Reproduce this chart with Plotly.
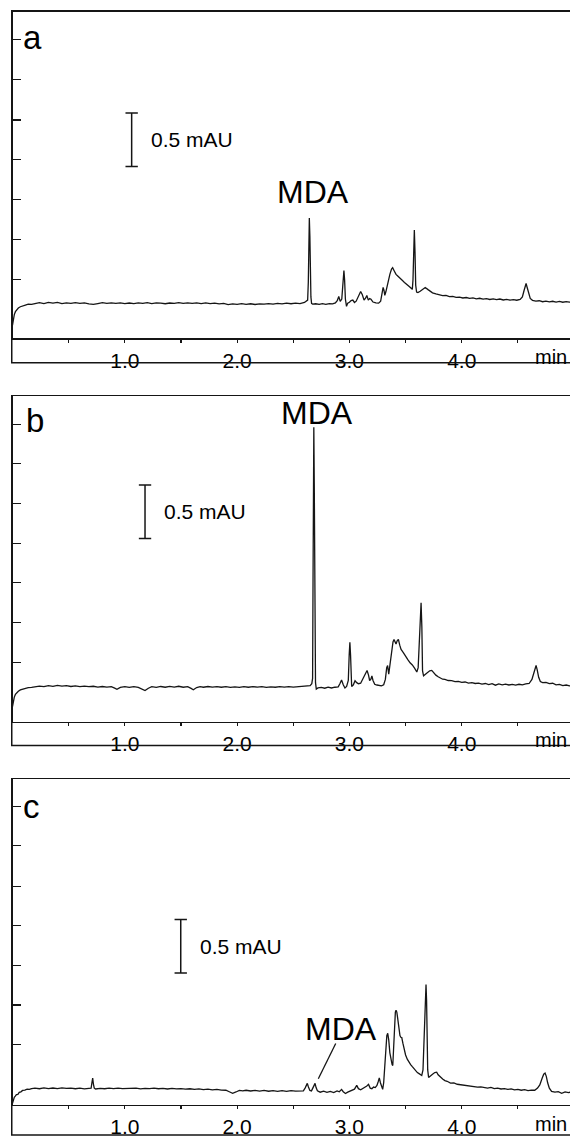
import plotly.graph_objects as go

W, H = 570, 1138

# ---------------- data: (retention time [min], absorbance [mAU]) ----------------
trace_a = [
    (0.000, -0.204), (0.008, -0.150), (0.016, -0.105), (0.026, -0.078), (0.038, -0.058), (0.052, -0.044),
    (0.070, -0.032), (0.090, -0.022), (0.115, -0.016), (0.140, -0.008), (0.170, -0.010), (0.200, -0.002),
    (0.24, 0.006), (0.28, -0.003), (0.32, 0.008), (0.36, 0.001), (0.40, 0.009), (0.44, -0.002), (0.48, 0.005),
    (0.52, 0.000), (0.56, 0.007), (0.60, -0.001), (0.64, 0.004), (0.68, -0.006), (0.72, -0.010), (0.76, -0.002),
    (0.80, 0.006), (0.84, -0.001), (0.88, 0.004), (0.92, 0.000), (0.96, 0.005), (1.00, -0.003), (1.04, 0.003),
    (1.08, -0.002), (1.12, 0.004), (1.16, 0.000), (1.20, 0.006), (1.24, -0.002), (1.28, 0.004), (1.32, 0.001),
    (1.36, -0.004), (1.40, 0.003), (1.44, 0.000), (1.48, 0.006), (1.52, -0.001), (1.56, 0.004), (1.60, 0.000),
    (1.64, 0.005), (1.68, -0.002), (1.72, 0.004), (1.76, -0.003), (1.80, 0.002), (1.84, -0.005), (1.88, -0.001),
    (1.92, -0.012), (1.96, -0.005), (2.00, -0.009), (2.04, -0.003), (2.08, -0.010), (2.12, -0.004), (2.16, -0.011),
    (2.20, -0.005), (2.24, -0.008), (2.28, -0.002), (2.32, -0.007), (2.36, -0.001), (2.40, -0.006), (2.44, 0.001),
    (2.48, -0.004), (2.52, 0.002), (2.56, -0.002), (2.60, 0.008), (2.615, 0.022), (2.628, 0.030), (2.634, 0.200),
    (2.638, 0.560), (2.643, 0.796), (2.648, 0.620), (2.652, 0.300), (2.657, 0.060), (2.663, 0.000), (2.672, -0.008),
    (2.70, -0.004), (2.73, -0.010), (2.76, -0.003), (2.79, -0.009), (2.82, -0.002), (2.85, -0.006), (2.875, 0.004),
    (2.893, 0.028), (2.905, 0.065), (2.918, 0.018), (2.932, 0.040), (2.940, 0.150), (2.946, 0.290), (2.951, 0.306),
    (2.957, 0.220), (2.964, 0.040), (2.974, -0.028), (2.985, 0.002), (3.000, 0.010), (3.015, 0.025), (3.030, 0.030),
    (3.045, 0.008), (3.060, 0.020), (3.075, 0.060), (3.090, 0.100), (3.100, 0.111), (3.115, 0.080), (3.130, 0.030),
    (3.145, 0.050), (3.155, 0.074), (3.168, 0.030), (3.180, 0.045), (3.192, 0.038), (3.210, 0.012), (3.235, 0.004),
    (3.260, 0.002), (3.278, 0.020), (3.290, 0.080), (3.300, 0.148), (3.308, 0.120), (3.315, 0.074), (3.325, 0.110),
    (3.340, 0.190), (3.360, 0.270), (3.375, 0.320), (3.385, 0.333), (3.398, 0.305), (3.415, 0.270), (3.43, 0.255),
    (3.45, 0.230), (3.47, 0.215), (3.49, 0.195), (3.51, 0.180), (3.53, 0.160), (3.55, 0.140), (3.560, 0.130),
    (3.566, 0.220), (3.572, 0.560), (3.578, 0.685), (3.584, 0.480), (3.590, 0.170), (3.598, 0.105), (3.61, 0.100),
    (3.63, 0.112), (3.65, 0.130), (3.675, 0.148), (3.70, 0.128), (3.72, 0.112), (3.74, 0.098), (3.77, 0.088),
    (3.80, 0.080), (3.83, 0.072), (3.86, 0.074), (3.89, 0.062), (3.92, 0.064), (3.95, 0.055), (3.98, 0.058),
    (4.01, 0.050), (4.04, 0.054), (4.07, 0.046), (4.10, 0.050), (4.13, 0.042), (4.16, 0.047), (4.19, 0.040),
    (4.22, 0.044), (4.25, 0.036), (4.28, 0.042), (4.31, 0.034), (4.34, 0.040), (4.37, 0.031), (4.40, 0.036),
    (4.43, 0.030), (4.46, 0.035), (4.49, 0.029), (4.52, 0.036), (4.540, 0.060), (4.555, 0.120), (4.565, 0.170),
    (4.573, 0.185), (4.582, 0.150), (4.595, 0.090), (4.610, 0.045), (4.63, 0.028), (4.66, 0.020), (4.69, 0.024),
    (4.72, 0.015), (4.75, 0.021), (4.78, 0.013), (4.81, 0.019), (4.84, 0.012), (4.87, 0.018), (4.90, 0.010),
    (4.93, 0.016), (4.96, 0.011), (5.00, 0.014),
]

trace_b = [
    (0.000, -0.185), (0.008, -0.135), (0.016, -0.095), (0.026, -0.070), (0.038, -0.052), (0.052, -0.040),
    (0.070, -0.028), (0.090, -0.020), (0.115, -0.012), (0.140, -0.006), (0.170, -0.004), (0.200, 0.002),
    (0.24, 0.008), (0.28, 0.003), (0.32, 0.012), (0.36, 0.006), (0.40, 0.014), (0.44, 0.008), (0.48, 0.012),
    (0.52, 0.004), (0.56, 0.010), (0.60, 0.003), (0.64, 0.008), (0.68, 0.002), (0.72, 0.006), (0.76, -0.001),
    (0.80, 0.004), (0.84, -0.002), (0.88, 0.002), (0.91, -0.012), (0.93, -0.022), (0.96, -0.004), (1.00, 0.002),
    (1.04, -0.005), (1.08, 0.003), (1.12, -0.004), (1.15, -0.016), (1.18, -0.034), (1.21, -0.012), (1.24, 0.002),
    (1.28, -0.004), (1.32, 0.004), (1.36, -0.003), (1.40, 0.005), (1.44, -0.002), (1.48, 0.006), (1.52, -0.003),
    (1.56, 0.002), (1.59, -0.014), (1.61, -0.026), (1.64, -0.006), (1.67, 0.003), (1.70, -0.003), (1.74, 0.004),
    (1.78, -0.002), (1.82, 0.003), (1.86, -0.003), (1.90, 0.002), (1.94, -0.004), (1.98, 0.001), (2.02, -0.004),
    (2.06, 0.002), (2.10, -0.003), (2.14, 0.003), (2.18, -0.002), (2.22, 0.002), (2.26, -0.004), (2.30, 0.001),
    (2.34, -0.003), (2.38, 0.002), (2.42, -0.002), (2.46, 0.003), (2.50, -0.002), (2.54, 0.002), (2.58, -0.001),
    (2.62, 0.004), (2.650, 0.012), (2.665, 0.030), (2.672, 0.080), (2.676, 1.000), (2.680, 2.000), (2.683, 2.426),
    (2.687, 1.900), (2.690, 1.300), (2.694, 0.330), (2.698, 0.040), (2.705, -0.020), (2.72, -0.010), (2.75, -0.004),
    (2.78, -0.012), (2.81, -0.002), (2.84, -0.010), (2.87, -0.003), (2.90, 0.000), (2.915, 0.030), (2.930, 0.065),
    (2.945, 0.020), (2.960, -0.010), (2.975, 0.005), (2.990, 0.060), (2.998, 0.300), (3.004, 0.417), (3.010, 0.300),
    (3.015, 0.060), (3.020, 0.003), (3.035, 0.020), (3.050, 0.058), (3.065, 0.040), (3.080, 0.030), (3.100, 0.035),
    (3.120, 0.080), (3.140, 0.130), (3.157, 0.154), (3.170, 0.110), (3.180, 0.060), (3.190, 0.070), (3.200, 0.102),
    (3.210, 0.060), (3.225, 0.025), (3.245, 0.018), (3.265, 0.012), (3.285, 0.010), (3.305, 0.020), (3.320, 0.070),
    (3.332, 0.180), (3.340, 0.200), (3.350, 0.120), (3.362, 0.220), (3.375, 0.340), (3.388, 0.420), (3.397, 0.444),
    (3.405, 0.420), (3.415, 0.400), (3.425, 0.430), (3.436, 0.444), (3.448, 0.390), (3.46, 0.350), (3.48, 0.320),
    (3.50, 0.280), (3.52, 0.255), (3.54, 0.225), (3.56, 0.205), (3.58, 0.175), (3.600, 0.139), (3.612, 0.180),
    (3.622, 0.420), (3.630, 0.700), (3.638, 0.787), (3.645, 0.560), (3.651, 0.150), (3.660, 0.104), (3.68, 0.120),
    (3.70, 0.135), (3.715, 0.150), (3.733, 0.154), (3.75, 0.130), (3.77, 0.110), (3.79, 0.095), (3.81, 0.085),
    (3.83, 0.072), (3.85, 0.070), (3.88, 0.060), (3.91, 0.058), (3.94, 0.050), (3.97, 0.052), (4.00, 0.043),
    (4.03, 0.046), (4.06, 0.036), (4.09, 0.040), (4.12, 0.032), (4.15, 0.036), (4.18, 0.026), (4.21, 0.032),
    (4.24, 0.022), (4.27, 0.030), (4.30, 0.016), (4.33, 0.028), (4.36, 0.020), (4.39, 0.026), (4.42, 0.018),
    (4.45, 0.024), (4.48, 0.017), (4.51, 0.025), (4.54, 0.020), (4.57, 0.028), (4.60, 0.032), (4.625, 0.070),
    (4.640, 0.130), (4.652, 0.185), (4.662, 0.200), (4.672, 0.160), (4.685, 0.090), (4.700, 0.050), (4.72, 0.040),
    (4.75, 0.043), (4.78, 0.030), (4.81, 0.034), (4.84, 0.020), (4.87, 0.024), (4.90, 0.012), (4.93, 0.018),
    (4.96, 0.010), (5.00, 0.014),
]

trace_c = [
    (0.000, -0.111), (0.008, -0.080), (0.016, -0.055), (0.025, -0.045), (0.035, -0.030), (0.048, -0.028),
    (0.060, -0.010), (0.075, -0.005), (0.090, 0.008), (0.110, 0.012), (0.130, 0.020), (0.150, 0.018), (0.170, 0.026),
    (0.20, 0.030), (0.24, 0.024), (0.28, 0.033), (0.32, 0.026), (0.36, 0.031), (0.40, 0.025), (0.44, 0.032),
    (0.48, 0.027), (0.52, 0.030), (0.56, 0.024), (0.60, 0.029), (0.64, 0.023), (0.68, 0.028), (0.700, 0.030),
    (0.707, 0.080), (0.714, 0.123), (0.720, 0.070), (0.728, 0.030), (0.74, 0.022), (0.78, 0.027), (0.82, 0.024),
    (0.86, 0.029), (0.90, 0.026), (0.94, 0.030), (0.98, 0.025), (1.02, 0.028), (1.06, 0.024), (1.10, 0.029),
    (1.14, 0.023), (1.18, 0.028), (1.22, 0.025), (1.26, 0.030), (1.30, 0.024), (1.34, 0.028), (1.38, 0.022),
    (1.42, 0.027), (1.46, 0.023), (1.50, 0.026), (1.54, 0.020), (1.58, 0.024), (1.62, 0.018), (1.66, 0.022),
    (1.70, 0.016), (1.74, 0.020), (1.78, 0.014), (1.82, 0.018), (1.86, 0.012), (1.90, 0.010), (1.93, -0.004),
    (1.96, -0.018), (1.99, -0.006), (2.02, 0.008), (2.05, 0.004), (2.08, 0.010), (2.12, 0.003), (2.16, 0.009),
    (2.20, 0.002), (2.24, 0.008), (2.28, 0.001), (2.32, 0.007), (2.36, 0.000), (2.40, 0.006), (2.44, 0.000),
    (2.48, 0.006), (2.52, 0.002), (2.56, 0.006), (2.590, 0.004), (2.605, 0.030), (2.615, 0.060), (2.625, 0.074),
    (2.635, 0.040), (2.648, 0.008), (2.662, 0.004), (2.675, 0.030), (2.685, 0.060), (2.694, 0.074), (2.703, 0.035),
    (2.715, 0.005), (2.74, -0.008), (2.77, 0.002), (2.80, -0.010), (2.83, 0.000), (2.86, -0.012), (2.89, 0.004),
    (2.91, -0.004), (2.93, 0.018), (2.945, -0.004), (2.965, -0.020), (2.985, -0.008), (3.005, 0.004), (3.025, 0.010),
    (3.045, 0.020), (3.065, 0.056), (3.08, 0.025), (3.10, 0.015), (3.12, 0.025), (3.14, 0.040), (3.155, 0.050),
    (3.170, 0.065), (3.185, 0.030), (3.200, 0.025), (3.215, 0.040), (3.230, 0.035), (3.245, 0.055), (3.256, 0.090),
    (3.266, 0.126), (3.276, 0.080), (3.286, 0.040), (3.296, 0.019), (3.305, 0.080), (3.315, 0.250), (3.325, 0.420),
    (3.333, 0.520), (3.341, 0.542), (3.350, 0.480), (3.360, 0.360), (3.372, 0.280), (3.380, 0.250), (3.386, 0.241),
    (3.393, 0.400), (3.403, 0.650), (3.409, 0.740), (3.415, 0.758), (3.422, 0.740), (3.430, 0.680), (3.440, 0.590),
    (3.450, 0.520), (3.458, 0.505), (3.466, 0.502), (3.476, 0.450), (3.49, 0.380), (3.50, 0.340), (3.515, 0.300),
    (3.53, 0.270), (3.545, 0.250), (3.56, 0.230), (3.575, 0.210), (3.59, 0.195), (3.605, 0.175), (3.62, 0.165),
    (3.635, 0.155), (3.644, 0.148), (3.655, 0.200), (3.664, 0.450), (3.672, 0.820), (3.678, 0.960), (3.682, 0.997),
    (3.687, 0.850), (3.692, 0.500), (3.697, 0.200), (3.705, 0.130), (3.72, 0.140), (3.74, 0.160), (3.760, 0.175),
    (3.777, 0.179), (3.79, 0.155), (3.81, 0.130), (3.83, 0.115), (3.85, 0.100), (3.87, 0.094), (3.90, 0.077),
    (3.93, 0.078), (3.96, 0.066), (3.99, 0.062), (4.02, 0.055), (4.05, 0.054), (4.08, 0.046), (4.11, 0.048),
    (4.14, 0.040), (4.17, 0.042), (4.20, 0.037), (4.23, 0.030), (4.26, 0.036), (4.29, 0.025), (4.32, 0.030),
    (4.35, 0.022), (4.38, 0.026), (4.41, 0.018), (4.44, 0.023), (4.47, 0.014), (4.50, 0.018), (4.53, 0.010),
    (4.56, 0.015), (4.59, 0.007), (4.62, 0.012), (4.65, 0.010), (4.675, 0.030), (4.695, 0.060), (4.715, 0.120),
    (4.730, 0.160), (4.742, 0.171), (4.753, 0.140), (4.765, 0.080), (4.780, 0.030), (4.80, 0.000), (4.83, -0.008),
    (4.86, -0.003), (4.89, -0.018), (4.92, -0.006), (4.95, -0.012), (4.98, -0.004), (5.00, -0.010),
]

panel_letters = ["a", "b", "c"]
x_tick_values = [0.5, 1.0, 1.5, 2.0, 2.5, 3.0, 3.5, 4.0, 4.5]
x_tick_labels = ["", "1.0", "", "2.0", "", "3.0", "", "4.0", ""]
x_unit_label = "min"
x_range = [0.0, 4.964]
y_ranges = [[-0.324, 2.722], [-0.324, 2.713], [-0.125, 2.917]]
y_tick_values = [
    [0.222, 0.593, 0.968, 1.343, 1.713, 2.088, 2.463],
    [0.231, 0.602, 0.972, 1.343, 1.716, 2.090, 2.454],
    [0.435, 0.806, 1.176, 1.546, 1.917, 2.296, 2.664],
]
scale_bar_len = 0.5                       # mAU
scale_bar_text = "0.5 mAU"
scale_bars = [(1.061, 1.278), (1.180, 1.386), (1.498, 1.105)]   # (time, lower end in mAU)
mda_text = "MDA"
mda_labels = [(2.676, 1.037), (2.707, 2.560), (2.921, 0.580)]
mda_leader_c = [(2.878, 0.447), (2.723, 0.118)]

# ---------------- layout geometry (pixels of the 570x1138 page) ----------------
LEFT_PX = 12.5
panels_px = [(12, 341, 366), (400, 728, 752), (786, 1114.5, 1145)]  # top, axis line, lower frame
letters_px = [(20.5, 38), (24, 424.5), (21, 814)]

INK = "#151515"
FONT = "Liberation Sans, Arial, Helvetica, sans-serif"


def py(px):
    return 1 - px / H


def pxx(px):
    return px / W


fig = go.Figure()
traces = [trace_a, trace_b, trace_c]
for i, tr in enumerate(traces):
    sfx = "" if i == 0 else str(i + 1)
    fig.add_trace(go.Scatter(
        x=[p[0] for p in tr], y=[p[1] for p in tr], mode="lines",
        line=dict(color=INK, width=1.3), xaxis="x" + sfx, yaxis="y" + sfx,
        showlegend=False, hoverinfo="skip"))

layout = dict(
    width=W, height=H, margin=dict(l=0, r=0, t=0, b=0),
    paper_bgcolor="white", plot_bgcolor="white", showlegend=False,
    font=dict(family=FONT, color="black"),
)
shapes, annotations = [], []
for i in range(3):
    sfx = "" if i == 0 else str(i + 1)
    top, axis_px, low = panels_px[i]
    xa, ya = "x" + sfx, "y" + sfx
    layout["xaxis" + sfx] = dict(
        domain=[pxx(LEFT_PX), 1.0], range=x_range, anchor=ya,
        showgrid=False, zeroline=False, showline=True, mirror=True,
        linecolor=INK, linewidth=1.5,
        ticks="outside", ticklen=3, tickwidth=1.2, tickcolor=INK,
        tickvals=x_tick_values, ticktext=x_tick_labels,
        tickfont=dict(size=21, family=FONT, color="black"),
        ticklabelstandoff=0,
    )
    layout["yaxis" + sfx] = dict(
        domain=[py(axis_px), py(top)], range=y_ranges[i], anchor=xa,
        showgrid=False, zeroline=False, showline=True, mirror=False,
        linecolor=INK, linewidth=1.5,
        ticks="inside", ticklen=8, tickwidth=1.2, tickcolor=INK,
        tickvals=y_tick_values[i], showticklabels=False,
    )
    # frame below the tick labels
    shapes.append(dict(type="line", xref="paper", yref="paper",
                       x0=pxx(LEFT_PX - 0.75), x1=pxx(LEFT_PX - 0.75), y0=py(axis_px), y1=py(low),
                       line=dict(color=INK, width=1.5)))
    shapes.append(dict(type="line", xref="paper", yref="paper",
                       x0=pxx(LEFT_PX - 1.5), x1=1.0, y0=py(low), y1=py(low),
                       line=dict(color=INK, width=1.5)))
    # scale bar
    t, y0 = scale_bars[i]
    cap = 0.055
    for seg in [(t, y0, t, y0 + scale_bar_len), (t - cap, y0, t + cap, y0),
                (t - cap, y0 + scale_bar_len, t + cap, y0 + scale_bar_len)]:
        shapes.append(dict(type="line", xref=xa, yref=ya, x0=seg[0], y0=seg[1], x1=seg[2], y1=seg[3],
                           line=dict(color=INK, width=1.5)))
    annotations.append(dict(xref=xa, yref=ya, x=t + 0.15, y=y0 + scale_bar_len / 2, text=scale_bar_text,
                            showarrow=False, xanchor="left", yanchor="middle",
                            font=dict(size=21, family=FONT, color="black")))
    # MDA label
    mx, my = mda_labels[i]
    annotations.append(dict(xref=xa, yref=ya, x=mx, y=my, text=mda_text, showarrow=False,
                            xanchor="center", yanchor="middle",
                            font=dict(size=32, family=FONT, color="black")))
    # panel letter
    lx, ly = letters_px[i]
    annotations.append(dict(xref="paper", yref="paper", x=pxx(lx), y=py(ly), text=panel_letters[i],
                            showarrow=False, xanchor="left", yanchor="middle",
                            font=dict(size=33, family=FONT, color="black")))
    # axis unit (kept fully inside the page)
    annotations.append(dict(xref="paper", yref="paper", x=pxx(533), y=py(axis_px + 19), text=x_unit_label,
                            showarrow=False, xanchor="left", yanchor="middle",
                            font=dict(size=20, family=FONT, color="black")))

shapes.append(dict(type="line", xref="x3", yref="y3",
                   x0=mda_leader_c[0][0], y0=mda_leader_c[0][1], x1=mda_leader_c[1][0], y1=mda_leader_c[1][1],
                   line=dict(color=INK, width=1.3)))

layout["shapes"] = shapes
layout["annotations"] = annotations
fig.update_layout(**layout)
fig.write_html(
    "out.html",
    config={"displayModeBar": False, "staticPlot": True},
    post_script="document.body.style.margin='0px';document.body.style.overflow='hidden';",
)
